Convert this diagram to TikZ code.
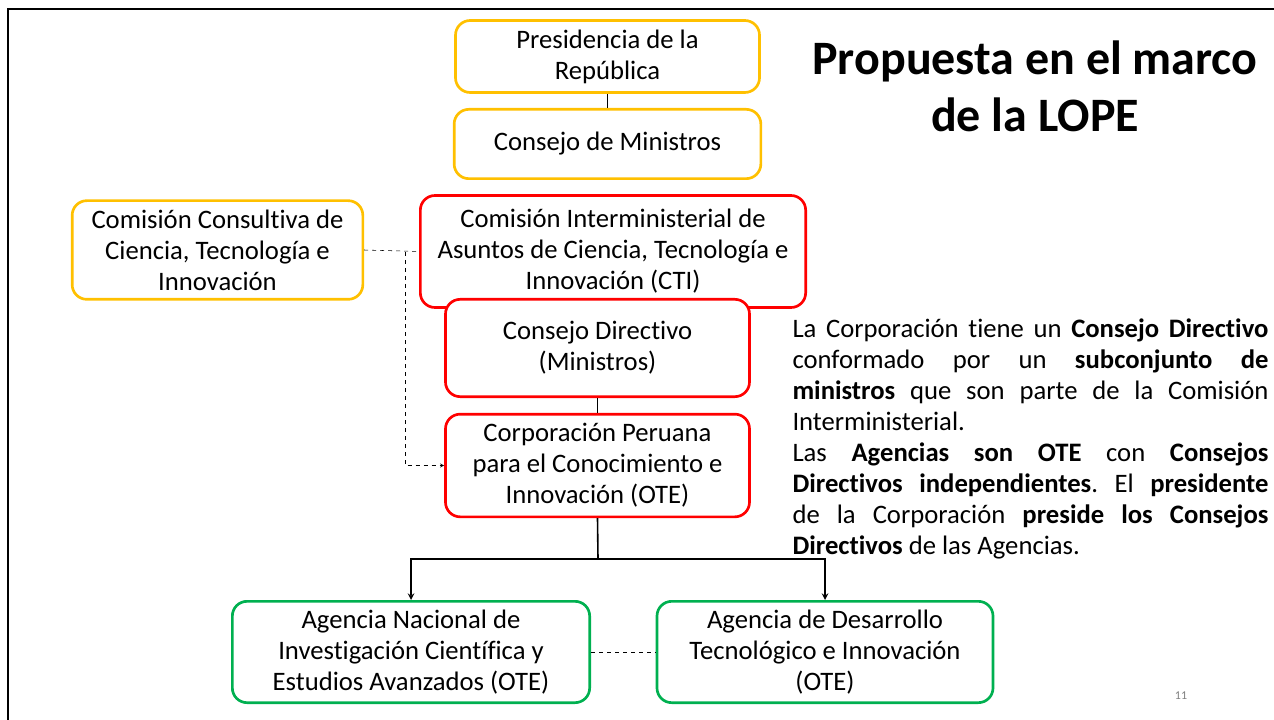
\documentclass[tikz,border=0pt]{standalone}
\usepackage{fontspec}
\setmainfont{Carlito}[Ligatures=NoCommon]
\usepackage{tikz}
\usetikzlibrary{arrows}
\definecolor{boxyellow}{RGB}{255,192,0}
\definecolor{boxred}{RGB}{255,0,0}
\definecolor{boxgreen}{RGB}{0,176,80}
\hyphenpenalty=10000
\frenchspacing
\tikzset{
  box/.style={draw, line width=2pt, rounded corners=11pt, fill=white, align=center,
    inner sep=1pt, font=\fontsize{20}{23.25}\selectfont},
  yelbox/.style={box, draw=boxyellow},
  redbox/.style={box, draw=boxred},
  grnbox/.style={box, draw=boxgreen}
}
\begin{document}
\begin{tikzpicture}[x=0.75pt,y=-0.75pt,>=stealth]
\useasboundingbox (0,0) rectangle (1274,720);
%frame
\draw[line width=1.5pt] (8,720)--(8,9)--(1274,9);
%boxes
\node[yelbox, minimum width=228pt, minimum height=54pt] (pres) at (607.5,56.5) {Presidencia de la\\República};
\node[yelbox, minimum width=230pt, minimum height=52pt] (cmin) at (607.5,144) {Consejo de Ministros};
\node[yelbox, minimum width=218pt, minimum height=74pt] (ccons) at (217.5,250) {Comisión Consultiva de\\Ciencia, Tecnología e\\Innovación};
\node[redbox, minimum width=289pt, minimum height=84pt] (cint) at (613,251.5) {Comisión Interministerial de\\Asuntos de Ciencia, Tecnología e\\Innovación (CTI)};
\node[redbox, minimum width=228pt, minimum height=73pt] (cdir) at (597.5,348) {Consejo Directivo\\(Ministros)};
\node[redbox, minimum width=228pt, minimum height=77pt] (corp) at (597.5,465.5) {Corporación Peruana\\para el Conocimiento e\\Innovación (OTE)};
\node[grnbox, minimum width=268pt, minimum height=76pt] (anid) at (411,652) {Agencia Nacional de\\Investigación Científica y\\Estudios Avanzados (OTE)};
\node[grnbox, minimum width=252pt, minimum height=76pt] (adti) at (825,652) {Agencia de Desarrollo\\Tecnológico e Innovación\\(OTE)};
%connectors
\draw[line width=1.2pt] (pres)--(cmin);
\draw[line width=1.2pt] (cdir)--(corp);
\coordinate (split) at (598,559);
\draw[line width=1.2pt,->] (corp.south)--(split)-|(anid.north);
\draw[line width=1.2pt,->] (split)-|(adti.north);
\draw[dashed] (ccons.east)--(cint.west);
\coordinate (bend) at (405,252);
\draw[dashed,->] (bend)|-(corp.west);
\draw[dashed] (anid.east)--(adti.west);
%texts
\node[font=\fontsize{36}{42.75}\selectfont\bfseries, align=center] (title) at (1035,86) {Propuesta en el marco\\de la LOPE};
\node[text width=357pt, align=justify, inner sep=0pt, font=\fontsize{20}{23.25}\selectfont] (note) at (1030.5,439)
{La Corporación tiene un \textbf{Consejo Directivo}\linebreak conformado por un \textbf{subconjunto de}\linebreak \textbf{ministros} que son parte de la Comisión\linebreak Interministerial.\\
Las \textbf{Agencias son OTE} con \textbf{Consejos}\linebreak \textbf{Directivos independientes}. El \textbf{presidente}\linebreak de la Corporación \textbf{preside los Consejos}\linebreak \textbf{Directivos} de las Agencias.};
\node[text=gray, font=\fontsize{9}{11}\selectfont] (page) at (1181,696) {11};
\end{tikzpicture}
\end{document}
